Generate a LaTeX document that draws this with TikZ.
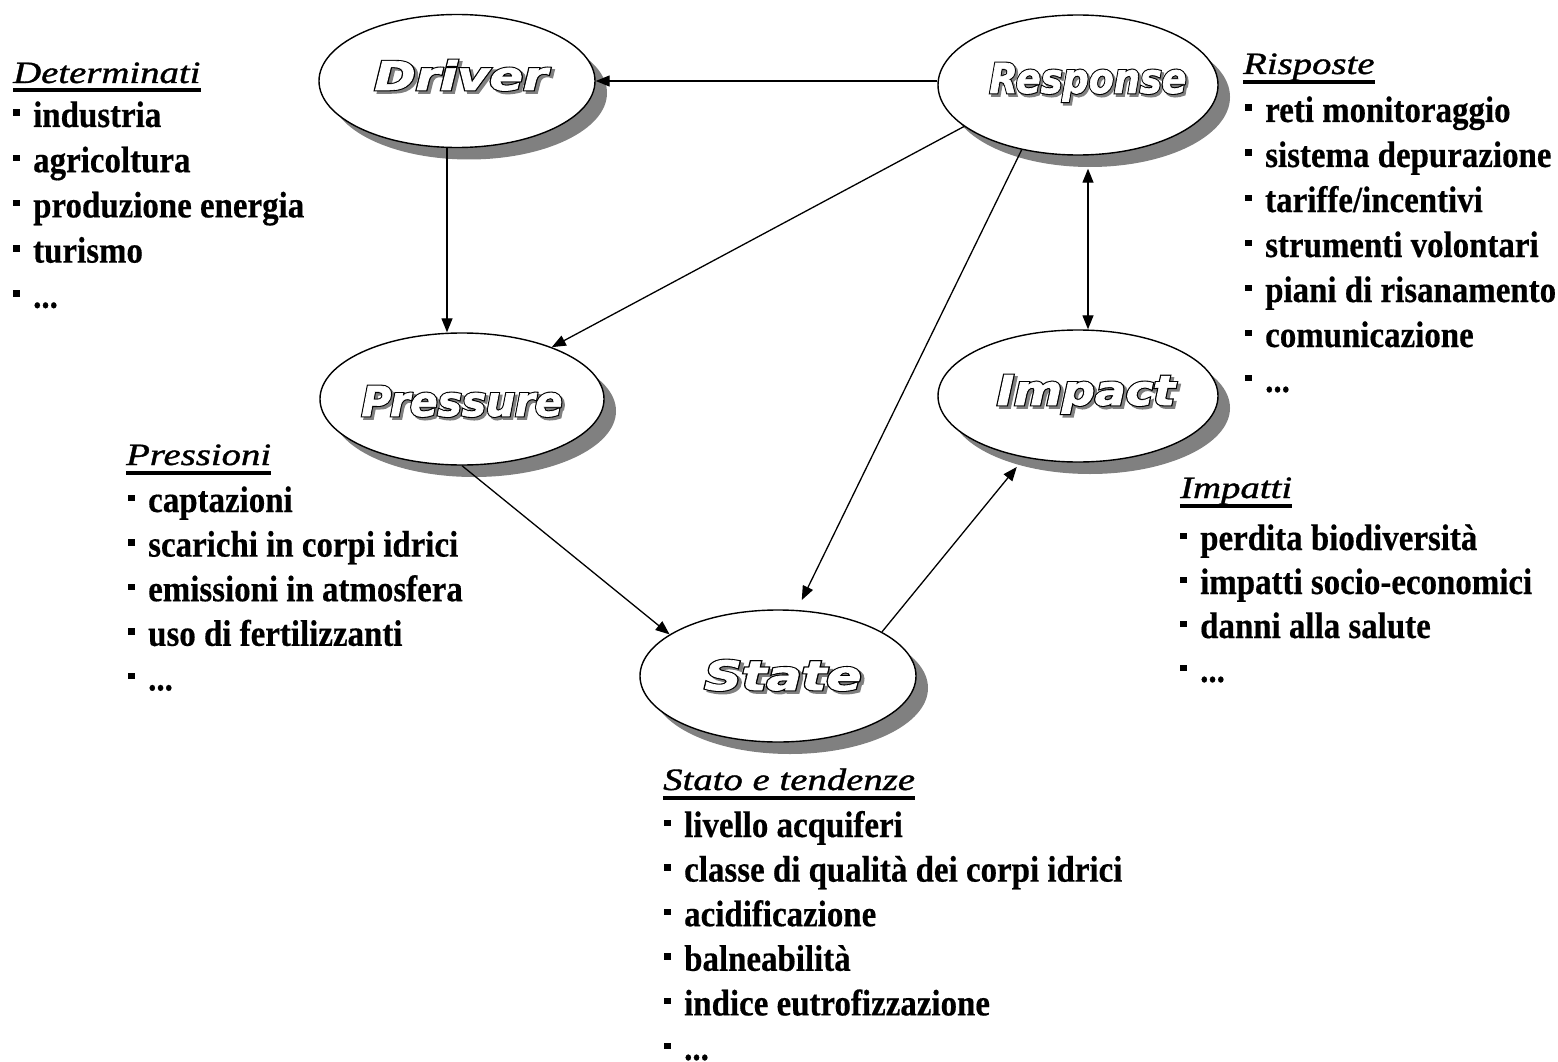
\documentclass[tikz,border=0pt]{standalone}
\usepackage{fontspec}
\usepackage{graphicx}
\usetikzlibrary{arrows.meta,shapes.geometric,calc}
\setmainfont{Liberation Serif}
\newfontfamily\itemfont[FakeStretch=0.89,FakeBold=0.4]{Liberation Serif}
\newfontfamily\headfont[FakeStretch=1.25,FakeBold=1.2]{Liberation Serif}
\newfontfamily\lblfont[FakeBold=1.6]{DejaVu Sans}
\newfontfamily\lbloutline[FakeBold=7]{DejaVu Sans}
\definecolor{shadowgray}{RGB}{128,128,128}
\newcommand{\bul}{\rule[11pt]{6.5pt}{6.5pt}\hspace{13.5pt}}
\newcommand{\etc}{...}
\newcommand{\ellab}[2]{\resizebox{#1pt}{30pt}{\bfseries\itshape\fontsize{41}{41}\selectfont
  \makebox[0pt][l]{\hspace{2.5pt}\raisebox{-2.5pt}{\lbloutline\textcolor{shadowgray}{#2}}}%
  \makebox[0pt][l]{\lbloutline\textcolor{black}{#2}}%
  {\lblfont\textcolor{white}{#2}}}}
\begin{document}
\begin{tikzpicture}[x=1pt,y=-1pt,
  ell/.style={ellipse, draw=black, line width=1.4pt, fill=white, inner sep=0pt},
  shad/.style={ellipse, fill=shadowgray, inner sep=0pt},
  arr/.style={line width=1.3pt, -{Triangle[length=14pt,width=11pt]}},
  darr/.style={line width=1.3pt, {Triangle[length=14pt,width=11pt]}-{Triangle[length=14pt,width=11pt]}},
  itm/.style={font=\itemfont\bfseries\fontsize{37}{37}\selectfont, inner sep=0pt, anchor=base west},
  hd/.style={font=\headfont\itshape\fontsize{31}{31}\selectfont, inner sep=0pt, anchor=base west},
  uline/.style={line width=3.4pt},
  lab/.style={inner sep=0pt, anchor=base}]
\fill[white] (0,0) rectangle (1558,1062);
\useasboundingbox (0,0) rectangle (1558,1062);
% shadows
\node[shad, minimum width=276pt, minimum height=133pt] (Driversh) at (469,93) {};
\node[shad, minimum width=280pt, minimum height=140pt] (Responsesh) at (1090,97) {};
\node[shad, minimum width=284pt, minimum height=132pt] (Pressuresh) at (474,411) {};
\node[shad, minimum width=280pt, minimum height=132pt] (Impactsh) at (1090,408) {};
\node[shad, minimum width=276pt, minimum height=132pt] (Statesh) at (790,688) {};
% ellipses
\node[ell, minimum width=276pt, minimum height=133pt] (Driver) at (457,81) {};
\node[ell, minimum width=280pt, minimum height=140pt] (Response) at (1078,85) {};
\node[ell, minimum width=284pt, minimum height=132pt] (Pressure) at (462,399) {};
\node[ell, minimum width=280pt, minimum height=132pt] (Impact) at (1078,396) {};
\node[ell, minimum width=276pt, minimum height=132pt] (State) at (778,676) {};
% labels
\node[lab] (lDriver) at (461,90) {\ellab{173}{Driver}};
\node[lab] (lResponse) at (1088,93) {\ellab{197}{Response}};
\node[lab] (lPressure) at (462,416) {\ellab{201}{Pressure}};
\node[lab] (lImpact) at (1086,405) {\ellab{178}{Impact}};
\node[lab] (lState) at (783,690) {\ellab{157}{State}};
% connectors
\draw[arr] (Response.west |- Driver.east) -- (Driver.east);
\draw[arr] ([xshift=-10pt]Driver.south) -- ([xshift=-15pt]Pressure.north);
\draw[arr] (Response.200) -- (Pressure.30);
\draw[arr, shorten >=11pt] (Response.229) -- (State.74);
\draw[arr] (Pressure.south) -- (State.159);
\draw[arr, shorten >=12pt] (State.23) -- (Impact.229);
\draw[darr, shorten >=13pt] ([xshift=10pt]Impact.north) -- ([xshift=10pt]Response.south);
% headings
\node[hd] (hD) at (13,83) {Determinati};
\draw[uline] ([yshift=-7pt]hD.base west) -- ([yshift=-7pt]hD.base east);
\node[hd] (hR) at (1243,74) {Risposte};
\draw[uline] ([yshift=-8pt]hR.base west) -- ([yshift=-8pt]hR.base east);
\node[hd] (hP) at (126,465) {Pressioni};
\draw[uline] ([yshift=-8pt]hP.base west) -- ([yshift=-8pt]hP.base east);
\node[hd] (hS) at (663,790) {Stato e tendenze};
\draw[uline] ([yshift=-8pt]hS.base west) -- ([yshift=-8pt]hS.base east);
\node[hd] (hI) at (1180,498) {Impatti};
\draw[uline] ([yshift=-8pt]hI.base west) -- ([yshift=-8pt]hI.base east);
% lists
\foreach \t [count=\i from 0] in {industria, agricoltura, produzione energia, turismo, \etc}
  \node[itm] (D\i) at (13,127+45.2*\i) {\bul\t};
\foreach \t [count=\i from 0] in {reti monitoraggio, sistema depurazione, tariffe/incentivi, strumenti volontari, piani di risanamento, comunicazione, \etc}
  \node[itm] (R\i) at (1245,122+45*\i) {\bul\t};
\foreach \t [count=\i from 0] in {captazioni, scarichi in corpi idrici, emissioni in atmosfera, uso di fertilizzanti, \etc}
  \node[itm] (P\i) at (128,512+44.6*\i) {\bul\t};
\foreach \t [count=\i from 0] in {livello acquiferi, classe di qualità dei corpi idrici, acidificazione, balneabilità, indice eutrofizzazione, \etc}
  \node[itm] (S\i) at (664,837+44.6*\i) {\bul\t};
\foreach \t [count=\i from 0] in {perdita biodiversità, impatti socio-economici, danni alla salute, \etc}
  \node[itm] (I\i) at (1180,550+44*\i) {\bul\t};
\end{tikzpicture}
\end{document}
